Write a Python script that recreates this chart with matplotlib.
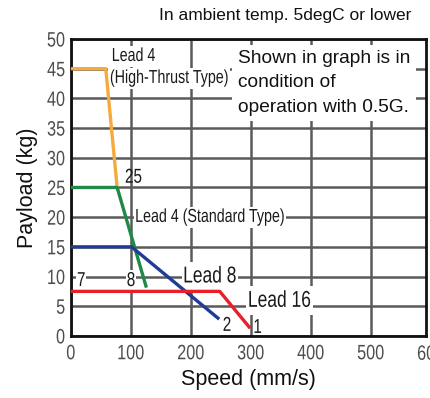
import matplotlib
matplotlib.use('Agg')
import matplotlib.pyplot as plt
import matplotlib.transforms as mtransforms
from matplotlib.patheffects import AbstractPathEffect

# curves (speed mm/s, payload kg)
high_thrust_x = [0, 58, 77]
high_thrust_y = [45, 45, 25]
lead4_x = [0, 77, 125]
lead4_y = [25, 25, 8.4]
lead8_x = [0, 101, 245]
lead8_y = [15, 15, 3]
lead16_x = [0, 248, 297]
lead16_y = [7.5, 7.5, 1.5]

xticks = [0, 100, 200, 300, 400, 500, 600]
yticks = list(range(0, 55, 5))

plt.rcParams['font.family'] = ['Liberation Sans', 'DejaVu Sans']


# narrow look (arial narrow is not installed): squeeze the glyphs sideways
class Squeeze(AbstractPathEffect):
    def __init__(self, sx=0.76, anchor='left'):
        super().__init__()
        self.sx = sx
        self.anchor = anchor

    def draw_path(self, renderer, gc, tpath, affine, rgbFace=None):
        v = tpath.vertices
        x0 = 0
        if len(v) and self.anchor == 'right':
            x0 = v[:, 0].max()
        elif len(v) and self.anchor == 'center':
            x0 = (v[:, 0].min() + v[:, 0].max()) / 2
        t = mtransforms.Affine2D().translate(-x0, 0).scale(self.sx, 1).translate(x0, 0)
        renderer.draw_path(gc, tpath, t + affine, rgbFace)


def label(ax, x, y, s, size, box=None):
    t = ax.text(x, y, s, fontsize=size, va='baseline', ha='left', color='#1a1a1a',
                zorder=2.5, path_effects=[Squeeze()])
    if box is not None:
        t.set_bbox(dict(facecolor='white', edgecolor='none', pad=box))
        t.get_bbox_patch().set_path_effects([Squeeze()])
    return t


fig = plt.figure(figsize=(4.3, 3.98), dpi=100)
ax = fig.add_axes([0.165, 0.156, 0.826, 0.746])

ax.set_xlim(0, 592)
ax.set_ylim(0, 50)
ax.set_xticks(xticks[:-1])
ax.set_yticks(yticks)
ax.grid(True, color='#5a5a5a', lw=1.8)
ax.set_axisbelow(True)
for s in ax.spines.values():
    s.set_linewidth(2)
    s.set_color('#111111')
ax.tick_params(length=0, labelsize=15, labelcolor='#4d4d4d')
ax.tick_params(axis='x', pad=6)
ax.tick_params(axis='y', pad=4)
for lab in ax.get_xticklabels():
    lab.set_path_effects([Squeeze(0.78, 'center')])
for lab in ax.get_yticklabels():
    lab.set_path_effects([Squeeze(0.78, 'right')])

# the 600 label sits just past the right edge
trans = mtransforms.blended_transform_factory(ax.transData, ax.transAxes)
ax.text(xticks[-1], -0.03, str(xticks[-1]), transform=trans, ha='center', va='top',
        fontsize=15, color='#4d4d4d', clip_on=False,
        path_effects=[Squeeze(0.78, 'center')])

lw = 2.4
ax.plot(high_thrust_x, high_thrust_y, color='#f5aa3c', lw=lw, zorder=3)
ax.plot(lead4_x, lead4_y, color='#1f8a45', lw=lw, zorder=3)
ax.plot(lead8_x, lead8_y, color='#203c96', lw=lw, zorder=3)
ax.plot(lead16_x, lead16_y, color='#e8202a', lw=lw, zorder=4)

label(ax, 68, 46.3, 'Lead 4', 13.5, box=1.5)
label(ax, 65, 42.6, '(High-Thrust Type)', 13.5, box=1.5)
label(ax, 90, 25.8, '25', 14.5)
label(ax, 107, 19.2, 'Lead 4 (Standard Type)', 13.5, box=1.5)
label(ax, 10, 8.4, '7', 14.5, box=0.5)
label(ax, 93, 8.4, '8', 14.5, box=0.5)
label(ax, 187, 9.0, 'Lead 8', 16.5, box=1.5)
label(ax, 295, 4.9, 'Lead 16', 16.5, box=2)
label(ax, 253, 0.85, '2', 14.5)
label(ax, 304, 0.5, '1', 14.5)

ax.text(278, 48.1, 'Shown in graph is in\ncondition of\noperation with 0.5G.', fontsize=13.8,
        va='top', linespacing=1.55, color='#111111',
        bbox=dict(facecolor='white', edgecolor='none', pad=4), zorder=5)

fig.text(0.663, 0.962, 'In ambient temp. 5degC or lower', ha='center', va='center',
         fontsize=12.5, color='#111111')
ax.set_xlabel('Speed (mm/s)', fontsize=15.5, labelpad=4, color='#111111')
ax.set_ylabel('Payload (kg)', fontsize=15.5, color='#111111')
ax.yaxis.set_label_coords(-0.092, 0.5)

fig.savefig('out.png', dpi=100)
